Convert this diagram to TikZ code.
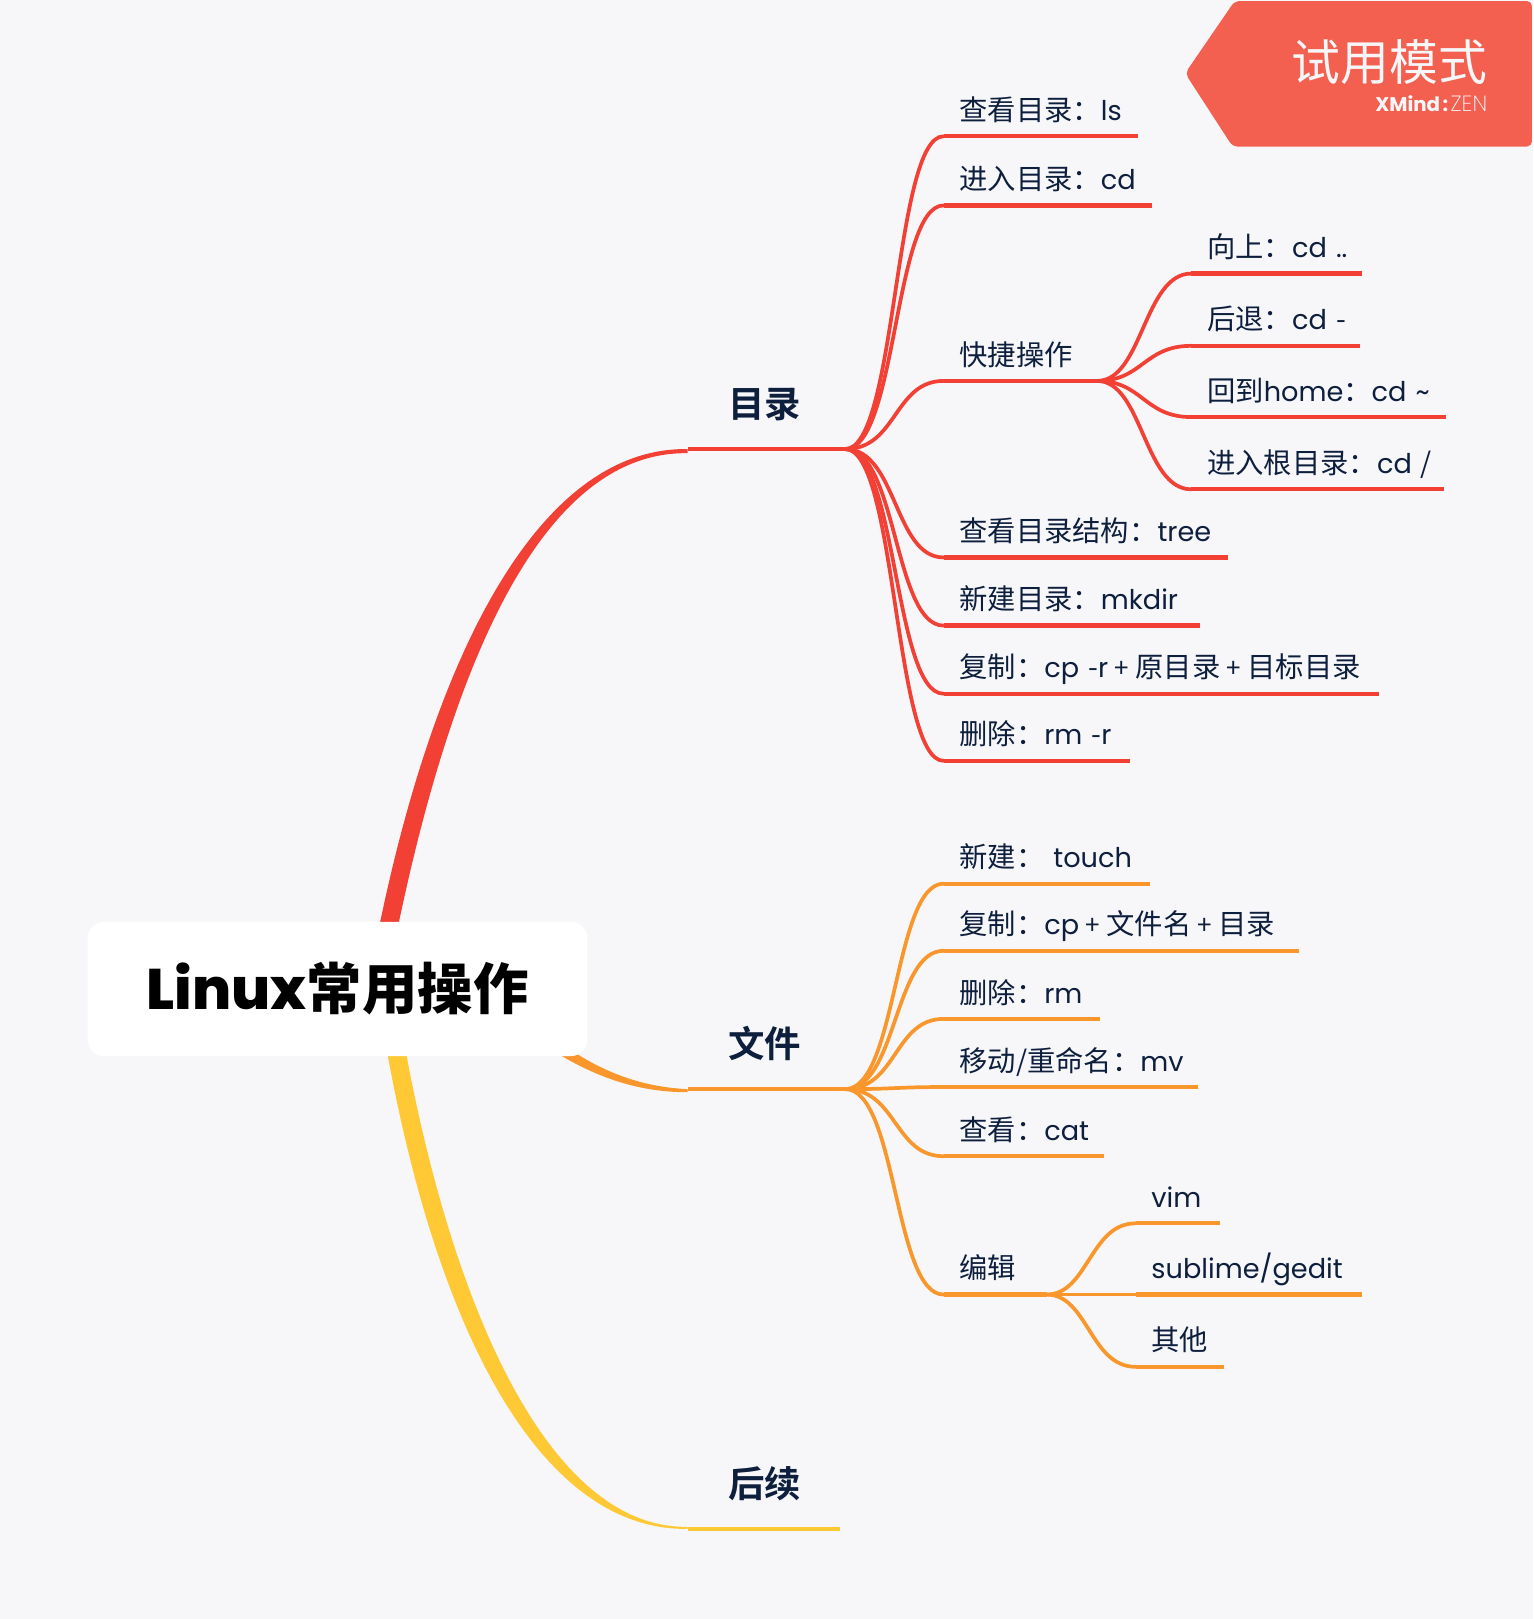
\documentclass[tikz,border=0pt]{standalone}
\usepackage{fontspec}
\setmainfont{Poppins}[Scale=0.96]
\newfontfamily\cjk{Noto Sans CJK SC}
\newfontfamily\cjkb{Noto Sans CJK SC Bold}
\newfontfamily\cjkh{Noto Sans CJK SC Black}
\newfontfamily\latx{Poppins ExtraBold}
\newfontfamily\latl{Poppins ExtraLight}
\usetikzlibrary{calc}
\definecolor{pagebg}{HTML}{F7F7FA}
\definecolor{cred}{HTML}{F24035}
\definecolor{corange}{HTML}{F9972C}
\definecolor{cyellow}{HTML}{FFC936}
\definecolor{badge}{HTML}{F36050}
\definecolor{ink}{HTML}{0E1F3D}
\newcommand\zh[1]{{\cjk #1}}
\newcommand\plusgap{\kern3.2pt{\cjk\fontsize{13pt}{14pt}\selectfont +}\kern3.2pt}
\newcommand\U{0.5161pt}
\pgfdeclarelayer{under}
\pgfsetlayers{under,main}
\tikzset{
  x=0.5161pt,y=-0.5161pt,
  leaf/.style={anchor=south west,inner xsep=15*\U,inner ysep=0pt,align=left,
    /utils/exec={\pgfmathsetlengthmacro\tw{(#1-30)*\U}},text width=\tw,
    text height=17*\U,text depth=15*\U,text=ink,font=\fontsize{14.15pt}{17pt}\selectfont},
  branchnode/.style={anchor=south west,inner xsep=39*\U,inner ysep=0pt,align=left,
    /utils/exec={\pgfmathsetlengthmacro\tw{(#1-78)*\U}},text width=\tw,
    text height=20*\U,text depth=30*\U,text=ink,font=\fontsize{18.2pt}{20pt}\selectfont},
  rootbox/.style={fill=white,rounded corners=16*\U,minimum width=484*\U,minimum height=130*\U,inner sep=0pt,text=black},
  underline/.style={line width=4.2*\U,line cap=butt},
  link/.style={line width=3.6*\U,line cap=round},
}
\newcommand\under[2]{\draw[underline,#1] (#2.south west) -- (#2.south east);}
\newcommand\conn[5]{\draw[link,#1] (#2.south east) .. controls +(#4,0) and +(-#5,0) .. (#3.south west);}
\begin{document}
\begin{tikzpicture}
\useasboundingbox (0,0) rectangle (1485,1568.3);
% root and branches
\node[rootbox] (root) at (327,958) {{\fontsize{28.6pt}{36pt}\selectfont\latx Linux}{\fontsize{27.7pt}{32pt}\selectfont\cjkh 常用操作}};
\node[branchnode=152] (b1) at (666,435) {\cjkb 目录};
\node[branchnode=152] (b2) at (666,1055) {\cjkb 文件};
\node[branchnode=147] (b3) at (666,1481) {\cjkb 后续};
% directory leaves
\node[leaf=188] (a1) at (914,132) {\mbox{\zh{查看目录：}ls}};
\node[leaf=201] (a2) at (914,199) {\mbox{\zh{进入目录：}cd}};
\node[leaf=148] (a3) at (914,369) {\mbox{\zh{快捷操作}}};
\node[leaf=275] (a4) at (914,540) {\mbox{\zh{查看目录结构：}tree}};
\node[leaf=248] (a5) at (914,606) {\mbox{\zh{新建目录：}mkdir}};
\node[leaf=421] (a6) at (914,672) {\mbox{\zh{复制：}cp \zh{-}r\plusgap\zh{原目录}\plusgap\zh{目标目录}}};
\node[leaf=180] (a7) at (914,737) {\mbox{\zh{删除：}rm \zh{-}r}};
\node[leaf=165] (q1) at (1154,265) {\mbox{\zh{向上：}cd ..}};
\node[leaf=163] (q2) at (1154,335) {\mbox{\zh{后退：}cd \zh{-}}};
\node[leaf=246] (q3) at (1154,404) {\mbox{\zh{回到}home\zh{：}cd \textasciitilde}};
\node[leaf=244] (q4) at (1154,474) {\mbox{\zh{进入根目录：}cd \zh{/}}};
% file leaves
\node[leaf=199] (f1) at (914,856) {\mbox{\zh{新建：} touch}};
\node[leaf=344] (f2) at (914,921) {\mbox{\zh{复制：}cp\plusgap\zh{文件名}\plusgap\zh{目录}}};
\node[leaf=151] (f3) at (914,987) {\mbox{\zh{删除：}rm}};
\node[leaf=246] (f4) at (914,1053) {\mbox{\zh{移动/重命名：}mv}};
\node[leaf=155] (f5) at (914,1120) {\mbox{\zh{查看：}cat}};
\node[leaf=99] (f6) at (914,1254) {\mbox{\zh{编辑}}};
\node[leaf=81] (e1) at (1100,1185) {\mbox{vim}};
\node[leaf=219] (e2) at (1100,1254) {\mbox{sublime/gedit}};
\node[leaf=85] (e3) at (1100,1324) {\mbox{\zh{其他}}};
% connectors, below the nodes
\begin{pgfonlayer}{under}
\fill[pagebg] (0,0) rectangle (1485,1568.3);
\fill[cred] (360,935) .. controls (415,640) and (520,433) .. (b1.south west) -- ++(0,4)
  .. controls (526,437) and (435,640) .. (378,935) -- cycle;
\fill[corange] (530,1000) .. controls (575,1037) and (620,1053) .. (b2.south west) -- ++(0,3)
  .. controls (620,1058) and (570,1045) .. (510,1000) -- cycle;
\fill[cyellow] (370,990) .. controls (416,1270) and (516,1483) .. (b3.south west) -- ++(0,-2)
  .. controls (530,1481) and (434,1260) .. (388,990) -- cycle;
\draw[underline,line width=4.6*\U,cred] (b1.south west) -- (b1.south east);
\draw[underline,line width=4.6*\U,corange] (b2.south west) -- (b2.south east);
\draw[underline,line width=4.6*\U,cyellow] (b3.south west) -- (b3.south east);
\foreach \n in {a1,a2,a3,a4,a5,a6,a7,q1,q2,q3,q4}{\under{cred}{\n}}
\foreach \n in {f1,f2,f3,f4,f5,f6,e1,e2,e3}{\under{corange}{\n}}
\foreach \n in {a1,a2,a3,a4,a5,a6,a7}{\conn{cred}{b1}{\n}{50}{48}}
\foreach \n in {q1,q2,q3,q4}{\conn{cred}{a3}{\n}{44}{46}}
\foreach \n in {f1,f2,f3,f4,f5,f6}{\conn{corange}{b2}{\n}{50}{48}}
\foreach \n in {e1,e2,e3}{\conn{corange}{f6}{\n}{40}{44}}
\end{pgfonlayer}
% trial badge
\fill[badge,rounded corners=5*\U] (1196,1) -- (1484,1) -- (1484,142) -- (1194,142) -- (1148,71) -- cycle;
\node[anchor=east,inner sep=0pt,text=pagebg,font=\fontsize{24.4pt}{28pt}\selectfont] (bt) at (1441,60) {\zh{试用模式}};
\node[anchor=east,inner sep=0pt,text=pagebg,font=\fontsize{10.3pt}{12pt}\selectfont] (bx) at (1441,100) {\textbf{XMind\kern1.2pt:\kern1.2pt}{\latl\fontsize{11pt}{12pt}\selectfont ZEN}};
\end{tikzpicture}
\end{document}
